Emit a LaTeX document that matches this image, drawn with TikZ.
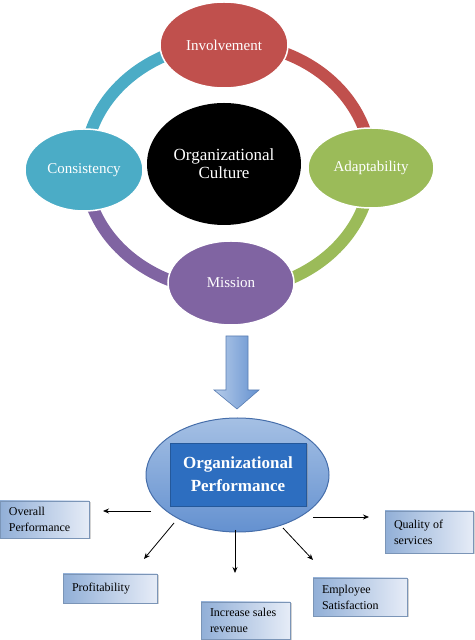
\documentclass[tikz,border=0pt]{standalone}
\usepackage{fontspec}
\setmainfont{Liberation Serif}
\usepackage{tikz}
\usetikzlibrary{shapes.geometric}
\usetikzlibrary{shadows}
\usetikzlibrary{arrows.meta}
\definecolor{ColInv}{RGB}{192,80,77}
\definecolor{ColAda}{RGB}{155,187,89}
\definecolor{ColCon}{RGB}{75,172,198}
\definecolor{ColMis}{RGB}{128,100,162}
\definecolor{ColPerfA}{RGB}{165,192,228}
\definecolor{ColPerfB}{RGB}{100,145,208}
\definecolor{ColPerfLine}{RGB}{70,110,170}
\definecolor{ColPerfBox}{RGB}{45,110,192}
\definecolor{ColBoxA}{RGB}{145,175,215}
\definecolor{ColBoxB}{RGB}{230,236,247}
\tikzstyle{CycleNode}=[ellipse,draw=white,line width=1.5pt,inner sep=0pt,
text=white,font=\fontsize{15}{18}\selectfont]
\tikzstyle{CycleArc}=[line width=12pt]
\tikzstyle{BigArrow}=[draw=ColPerfLine!90,line width=.6pt,left color=ColPerfA!80!white,
right color=ColPerfB]
\tikzstyle{PerfEllipse}=[ellipse,draw=ColPerfLine,line width=1pt,inner sep=0pt,
top color=ColPerfA,bottom color=ColPerfB]
\tikzstyle{PerfBox}=[rectangle,fill=ColPerfBox,draw=ColPerfBox!80!black,line width=.5pt,
inner sep=0pt,text=white,align=center,font=\bfseries\fontsize{17}{23}\selectfont,
drop shadow={shadow xshift=1.5pt,shadow yshift=-1.5pt,opacity=.4}]
\tikzstyle{ResultBox}=[rectangle,draw=ColBoxA!85!black,line width=.4pt,
left color=ColBoxA,right color=ColBoxB,inner xsep=9pt,inner ysep=0pt,align=flush left,
font=\fontsize{12}{16}\selectfont,
drop shadow={shadow xshift=1.5pt,shadow yshift=-1.5pt,opacity=.35}]
\tikzstyle{OutArrow}=[-{Stealth[length=6pt,width=5pt]},line width=.8pt]

\begin{document}
\begin{tikzpicture}[x=1pt,y=1pt]
        \useasboundingbox (0,0) rectangle (474,640);
        % ring of the culture cycle
        \coordinate (ring) at (228,473);
        \draw[CycleArc,ColCon] (ring) ++(180:143 and 124) arc[start angle=180,end angle=90,x radius=143,y radius=124];
        \draw[CycleArc,ColInv] (ring) ++(90:143 and 124) arc[start angle=90,end angle=0,x radius=143,y radius=124];
        \draw[CycleArc,ColAda] (ring) ++(0:143 and 124) arc[start angle=0,end angle=-90,x radius=143,y radius=124];
        \draw[CycleArc,ColMis] (ring) ++(-90:143 and 124) arc[start angle=-90,end angle=-180,x radius=143,y radius=124];
        \node[CycleNode,fill=ColInv,minimum width=128pt,minimum height=86pt](inv)at(224,595){Involvement};
        \node[CycleNode,fill=ColCon,minimum width=118pt,minimum height=82pt](con)at(84,470){Consistency};
        \node[CycleNode,fill=ColAda,minimum width=126pt,minimum height=80pt](ada)at(371,472){Adaptability};
        \node[CycleNode,fill=ColMis,minimum width=126pt,minimum height=84pt](mis)at(231,357){Mission};
        \node[ellipse,fill=black,inner sep=0pt,minimum width=154pt,minimum height=122pt,
        text=white,align=center,font=\fontsize{17}{18}\selectfont](cul)at(224,476){Organizational\\Culture};
        % block arrow
        \draw[BigArrow] (226,304) -- (248,304) -- (248,250) -- (259,250) -- (237,231)
        -- (214,250) -- (226,250) -- cycle;
        % performance
        \node[PerfEllipse,minimum width=183pt,minimum height=114pt](perf)at(237.5,165){};
        \node[PerfBox,minimum width=136pt,minimum height=63pt](perfbox)at(238,165.5){Organizational\\Performance};
        \node[ResultBox,text width=71pt,minimum height=37pt](overall)at(44.5,120.5){Overall\\Performance};
        \node[ResultBox,text width=76pt,minimum height=29pt](profit)at(110,51.5){Profitability};
        \node[ResultBox,text width=71pt,minimum height=37pt](sales)at(245.5,19.5){Increase sales\\revenue};
        \node[ResultBox,text width=76pt,minimum height=38pt](employee)at(360,43){Employee\\Satisfaction};
        \node[ResultBox,text width=70pt,minimum height=42pt](quality)at(429,108){Quality of\\services};
        \coordinate (s1) at (151,129); \coordinate (e1) at (103,129);
        \coordinate (s2) at (174,117); \coordinate (e2) at (144,81);
        \coordinate (s3) at (235,110); \coordinate (e3) at (235,67);
        \coordinate (s4) at (283,112); \coordinate (e4) at (313,80);
        \coordinate (s5) at (313,123); \coordinate (e5) at (369,123);
        \draw[OutArrow](s1)--(e1);
        \draw[OutArrow](s2)--(e2);
        \draw[OutArrow](s3)--(e3);
        \draw[OutArrow](s4)--(e4);
        \draw[OutArrow](s5)--(e5);
    \end{tikzpicture}
\end{document}
